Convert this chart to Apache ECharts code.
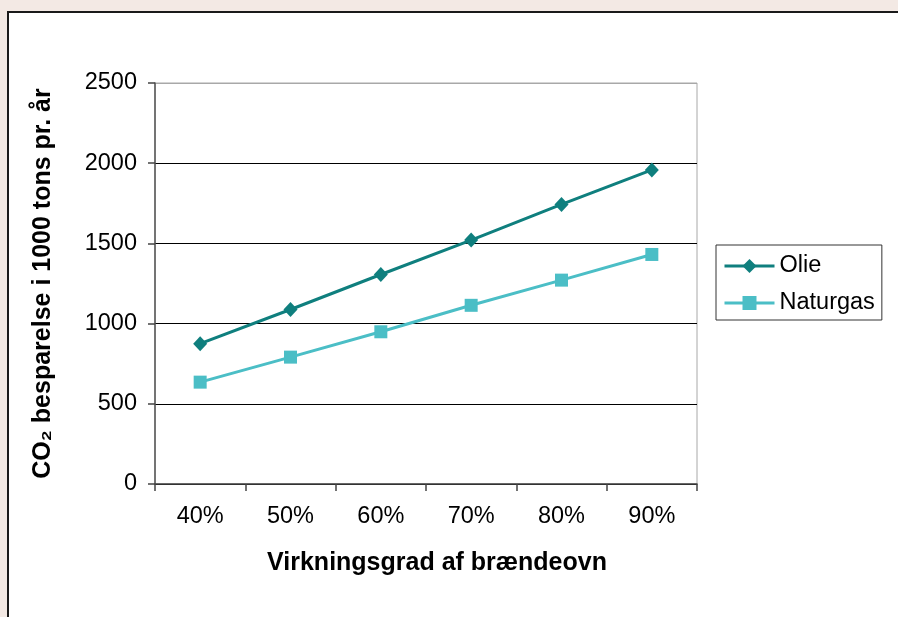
<!DOCTYPE html>
<html>
<head>
<meta charset="utf-8">
<script src="https://cdn.jsdelivr.net/npm/echarts@6/dist/echarts.min.js"></script>
<style>
  html, body { margin: 0; padding: 0; background: #f3e9e4; }
  #chart { width: 898px; height: 617px; }
</style>
</head>
<body>
<div id="chart"></div>
<script>
// Efficiency of the wood stove (x) and CO2 savings in 1000 tons per year (y)
const categories = ['40%', '50%', '60%', '70%', '80%', '90%'];
const olie = [875, 1088, 1306, 1521, 1743, 1958];
const naturgas = [635, 791, 949, 1114, 1271, 1431];
const yTicks = [0, 500, 1000, 1500, 2000, 2500];

const FONT = '"Liberation Sans", Arial, sans-serif';
const OLIE_COLOR = '#0f7f7e';
const GAS_COLOR = '#4bbec6';

const chart = echarts.init(document.getElementById('chart'), null, { renderer: 'canvas' });

chart.setOption({
  backgroundColor: '#f3e9e4',
  animation: false,
  textStyle: { fontFamily: FONT, color: '#000' },
  graphic: [{
    type: 'rect',
    z: -10,
    silent: true,
    shape: { x: 8, y: 12, width: 900, height: 620 },
    style: { fill: '#ffffff', stroke: '#1a1a1a', lineWidth: 2 }
  }],
  grid: {
    left: 155, right: 201, top: 83, bottom: 133,
    show: true, backgroundColor: 'transparent',
    borderColor: '#a8a8a8', borderWidth: 1
  },
  legend: {
    left: 716, top: 245,
    orient: 'vertical',
    padding: [9, 7, 5, 7],
    itemGap: 13,
    itemWidth: 50, itemHeight: 17.5,
    borderColor: '#333', borderWidth: 1,
    backgroundColor: '#fff',
    lineStyle: { width: 3 },
    textStyle: { fontFamily: FONT, fontSize: 23.5, lineHeight: 24, color: '#000' },
    data: ['Olie', 'Naturgas']
  },
  xAxis: {
    type: 'category',
    data: categories,
    boundaryGap: true,
    name: 'Virkningsgrad af brændeovn',
    nameLocation: 'middle',
    nameGap: 67,
    nameTextStyle: {
      fontFamily: FONT, fontSize: 25, fontWeight: 'bold', color: '#000',
      verticalAlign: 'top', padding: [0, 0, 0, 22]
    },
    axisLine: { lineStyle: { color: '#444', width: 1.5 } },
    axisTick: { show: true, length: 7, interval: 0, alignWithLabel: false, lineStyle: { color: '#444', width: 1.5 } },
    axisLabel: { margin: 21, fontFamily: FONT, fontSize: 23.5, color: '#000', interval: 0 },
    splitLine: { show: false }
  },
  yAxis: {
    type: 'value',
    min: yTicks[0],
    max: yTicks[yTicks.length - 1],
    interval: 500,
    name: 'CO\u2082 besparelse i 1000 tons pr. år',
    nameLocation: 'middle',
    nameGap: 99,
    nameRotate: 90,
    nameTextStyle: { fontFamily: FONT, fontSize: 25, fontWeight: 'bold', color: '#000' },
    axisLine: { show: true, lineStyle: { color: '#555', width: 1.5 } },
    axisTick: { show: true, length: 7, lineStyle: { color: '#444', width: 1.5 } },
    axisLabel: {
      margin: 18, fontFamily: FONT, fontSize: 23.5, color: '#000',
      formatter: (v) => String(v)
    },
    splitLine: {
      show: true,
      lineStyle: { color: ['#000', '#000', '#000', '#000', '#000', '#a8a8a8'], width: 1 }
    }
  },
  series: [
    {
      name: 'Olie',
      type: 'line',
      data: olie,
      symbol: 'diamond',
      symbolSize: [14, 15],
      showAllSymbol: true,
      lineStyle: { color: OLIE_COLOR, width: 3 },
      itemStyle: { color: OLIE_COLOR },
      z: 3
    },
    {
      name: 'Naturgas',
      type: 'line',
      data: naturgas,
      symbol: 'rect',
      symbolSize: 13,
      showAllSymbol: true,
      lineStyle: { color: GAS_COLOR, width: 3 },
      itemStyle: { color: GAS_COLOR },
      z: 3
    }
  ]
});
</script>
</body>
</html>
